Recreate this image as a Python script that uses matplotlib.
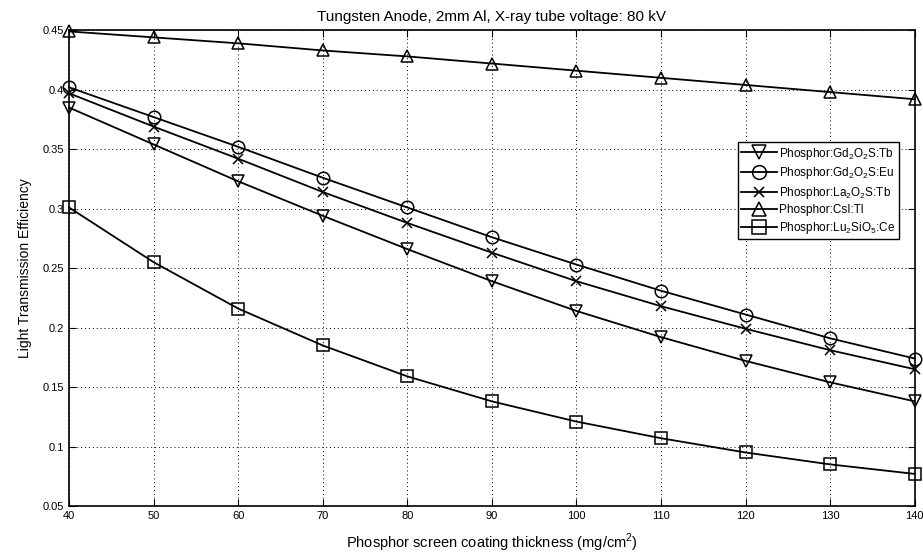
import matplotlib
matplotlib.use("Agg")
import matplotlib.pyplot as plt

thickness = [40, 50, 60, 70, 80, 90, 100, 110, 120, 130, 140]
gd2o2s_tb = [0.385, 0.354, 0.323, 0.294, 0.266, 0.239, 0.214, 0.192, 0.172, 0.154, 0.138]
gd2o2s_eu = [0.402, 0.377, 0.352, 0.326, 0.301, 0.276, 0.253, 0.231, 0.211, 0.191, 0.174]
la2o2s_tb = [0.397, 0.369, 0.342, 0.314, 0.288, 0.263, 0.239, 0.218, 0.199, 0.181, 0.165]
csi_tl = [0.449, 0.444, 0.439, 0.433, 0.428, 0.422, 0.416, 0.410, 0.404, 0.398, 0.392]
lu2sio5_ce = [0.301, 0.255, 0.216, 0.185, 0.159, 0.138, 0.121, 0.107, 0.095, 0.085, 0.077]
yticks = [0.05, 0.1, 0.15, 0.2, 0.25, 0.3, 0.35, 0.4, 0.45]
ytick_labels = ["0.05", "0.1", "0.15", "0.2", "0.25", "0.3", "0.35", "0.4", "0.45"]

fam = "Liberation Sans"
plt.rcParams['font.family'] = [fam, 'DejaVu Sans']
plt.rcParams['mathtext.fontset'] = 'custom'
plt.rcParams['mathtext.rm'] = fam

fig = plt.figure(figsize=(9.23, 5.6), dpi=100)
ax = fig.add_axes([0.0748, 0.0964, 0.9162, 0.8496])

series = [
    (gd2o2s_tb, 'v', r'Phosphor:Gd$_2$O$_2$S:Tb'),
    (gd2o2s_eu, 'o', r'Phosphor:Gd$_2$O$_2$S:Eu'),
    (la2o2s_tb, 'x', r'Phosphor:La$_2$O$_2$S:Tb'),
    (csi_tl, '^', 'Phosphor:CsI:Tl'),
    (lu2sio5_ce, 's', r'Phosphor:Lu$_2$SiO$_5$:Ce'),
]
for vals, m, lab in series:
    ax.plot(thickness, vals, color='black', lw=1.3, marker=m, ms=9 if m != 'x' else 7,
            mfc='none', mec='black', mew=1.1, label=lab, clip_on=False)

ax.set_xlim(40, 140)
ax.set_ylim(0.05, 0.45)
ax.set_xticks(thickness)
ax.set_yticks(yticks)
ax.set_yticklabels(ytick_labels)
ax.grid(True, color='black', linestyle=(0, (1, 3)), lw=0.7)
ax.tick_params(direction='in', top=True, right=True, labelsize=8, length=5)
for s in ax.spines.values():
    s.set_linewidth(1.2)
ax.set_title('Tungsten Anode, 2mm Al, X-ray tube voltage: 80 kV', fontsize=11, pad=7)
ax.set_xlabel('Phosphor screen coating thickness (mg/cm$^2$)', fontsize=10.5, labelpad=8)
ax.set_ylabel('Light Transmission Efficiency', fontsize=10, labelpad=8)

leg = ax.legend(loc='upper left', bbox_to_anchor=(0.791, 0.765), fontsize=8.5,
                frameon=True, fancybox=False, edgecolor='black', framealpha=1,
                handlelength=3.0, handletextpad=0.2, borderpad=0.3, labelspacing=0.3,
                borderaxespad=0, markerscale=1.1)
leg.get_frame().set_linewidth(1.0)

fig.savefig('out.png', dpi=100)
